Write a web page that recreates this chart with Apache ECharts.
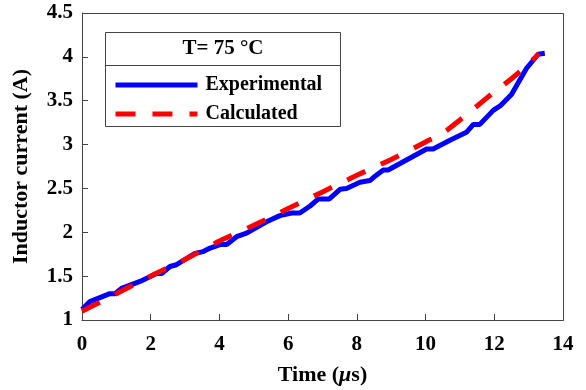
<!DOCTYPE html>
<html>
<head>
<meta charset="utf-8">
<script src="https://cdn.jsdelivr.net/npm/echarts@6/dist/echarts.min.js"></script>
<style>html,body{margin:0;padding:0;background:#fff}#c{width:586px;height:390px}</style>
</head>
<body>
<div id="c"></div>
<script>
var expT = [0, 0.23, 0.81, 0.96, 1.15, 1.69, 2.17, 2.32, 2.56, 2.75, 3.29, 3.53, 3.73, 4.02, 4.21, 4.5, 4.79, 5.37, 5.76, 6.1, 6.34, 6.64, 6.88, 7.2, 7.51, 7.7, 8.09, 8.38, 8.53, 8.77, 8.91, 10.03, 10.22, 10.71, 11.19, 11.39, 11.58, 11.97, 12.17, 12.5, 12.94, 13.28, 13.47];
var expI = [1.12, 1.21, 1.30, 1.30, 1.36, 1.44, 1.53, 1.53, 1.61, 1.63, 1.76, 1.78, 1.82, 1.86, 1.86, 1.95, 1.99, 2.12, 2.19, 2.22, 2.22, 2.30, 2.38, 2.38, 2.49, 2.50, 2.57, 2.59, 2.64, 2.71, 2.71, 2.95, 2.95, 3.05, 3.14, 3.23, 3.23, 3.39, 3.44, 3.57, 3.87, 4.03, 4.04];
var calcT = [0, 1, 2, 3, 4, 5, 6, 7, 8, 9, 10, 10.5, 11, 11.5, 12, 12.5, 13, 13.3];
var calcI = [1.10, 1.30, 1.50, 1.69, 1.90, 2.08, 2.27, 2.46, 2.65, 2.83, 3.03, 3.13, 3.28, 3.44, 3.60, 3.75, 3.92, 4.04];
var seriesNames = ['Experimental', 'Calculated'];
var legendTitle = 'T= 75 °C';
var xName = 'Time ({i|\u03bc}s)';
var yName = 'Inductor current (A)';

function pairs(a, b) { return a.map(function (v, i) { return [v, b[i]]; }); }

var font = 'Liberation Serif';
var chart = echarts.init(document.getElementById('c'));
chart.setOption({
  animation: false,
  grid: { left: 82, right: 23, top: 13, bottom: 70, containLabel: false, outerBoundsMode: 'none' },
  xAxis: {
    type: 'value', min: 0, max: 14, interval: 2,
    name: xName, nameLocation: 'middle', nameGap: 44,
    nameTextStyle: { fontFamily: font, fontWeight: 'bold', fontSize: 22, color: '#000',
      rich: { i: { fontFamily: font, fontWeight: 'bold', fontStyle: 'italic', fontSize: 22, color: '#000' } } },
    axisLine: { show: true, lineStyle: { color: '#444', width: 1 } },
    axisTick: { inside: true, length: 6, lineStyle: { color: '#444' } },
    axisLabel: { fontFamily: font, fontWeight: 'bold', fontSize: 21, color: '#000', margin: 14 },
    splitLine: { show: false }
  },
  yAxis: {
    type: 'value', min: 1, max: 4.5, interval: 0.5,
    name: yName, nameLocation: 'middle', nameGap: 50,
    nameTextStyle: { fontFamily: font, fontWeight: 'bold', fontSize: 22, color: '#000' },
    axisLine: { show: true, lineStyle: { color: '#444', width: 1 } },
    axisTick: { inside: true, length: 6, lineStyle: { color: '#444' } },
    axisLabel: { fontFamily: font, fontWeight: 'bold', fontSize: 21, color: '#000', margin: 9 },
    splitLine: { show: false }
  },
  legend: {
    orient: 'vertical', left: 108, top: 70,
    itemWidth: 82, itemHeight: 16, itemGap: 9,
    itemStyle: { opacity: 0 },
    lineStyle: { width: 5 },
    textStyle: { fontFamily: font, fontWeight: 'bold', fontSize: 20, color: '#000', padding: [0, 0, 0, 3] },
    data: seriesNames
  },
  graphic: [
    { type: 'rect', shape: { x: 105.5, y: 32.5, width: 235, height: 94 }, style: { fill: 'rgba(0,0,0,0)', stroke: '#444', lineWidth: 1 }, z: 10 },
    { type: 'line', shape: { x1: 105.5, y1: 65.5, x2: 340.5, y2: 65.5 }, style: { stroke: '#444', lineWidth: 1 }, z: 10 },
    { type: 'text', x: 223, y: 49, style: { text: legendTitle, fontFamily: font, fontWeight: 'bold', fontSize: 21, fill: '#000', textAlign: 'center', textVerticalAlign: 'middle' }, z: 10 },
    { type: 'rect', shape: { x: 82.5, y: 13.5, width: 481, height: 307 }, style: { fill: 'rgba(0,0,0,0)', stroke: '#444', lineWidth: 1 }, z: 0 }
  ],
  series: [
    {
      name: seriesNames[0], type: 'line', data: pairs(expT, expI),
      showSymbol: false, symbol: 'none',
      lineStyle: { color: '#0000ff', width: 5 }, itemStyle: { color: '#0000ff' }, z: 2
    },
    {
      name: seriesNames[1], type: 'line', data: pairs(calcT, calcI),
      showSymbol: false, symbol: 'none', smooth: 0.3,
      lineStyle: { color: '#ff0000', width: 5, type: [20, 17] }, itemStyle: { color: '#ff0000' }, z: 3
    }
  ]
});
</script>
</body>
</html>
